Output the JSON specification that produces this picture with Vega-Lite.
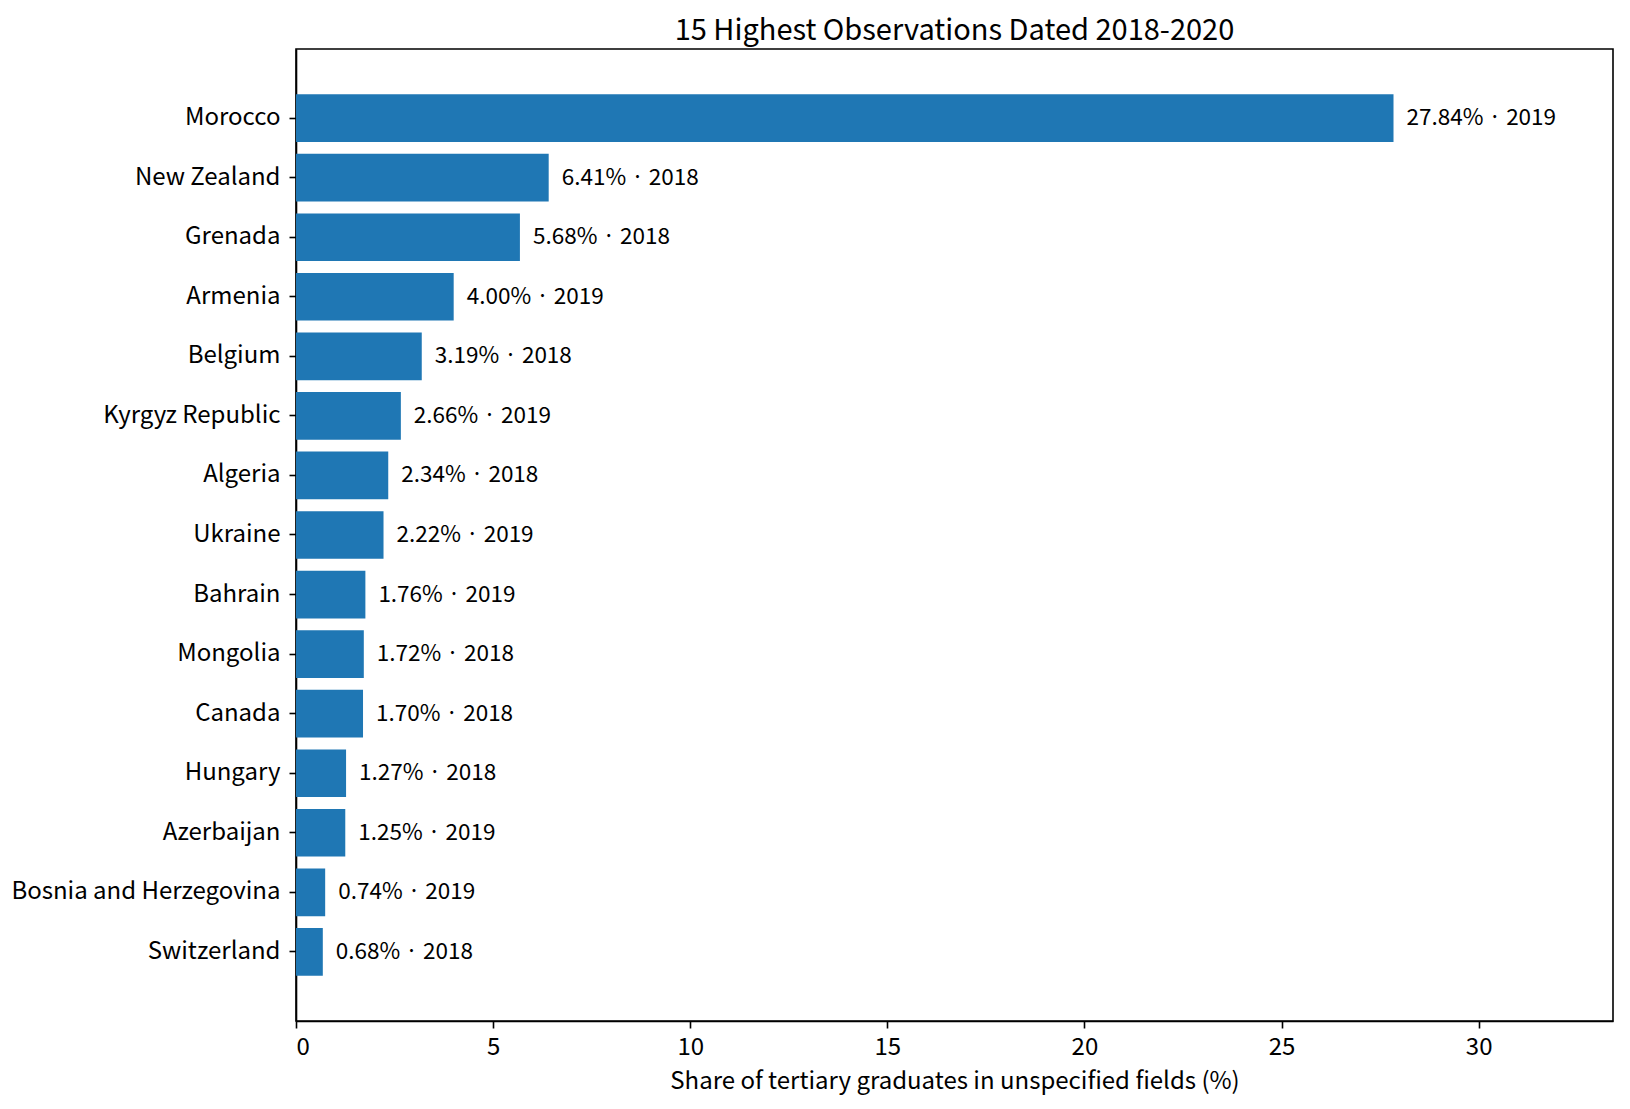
{
  "$schema": "https://vega.github.io/schema/vega-lite/v6.json",
  "description": "15 highest observations of share of tertiary graduates in unspecified fields, 2018-2020",
  "autosize": {"type": "none"},
  "padding": {"left": 296, "top": 49, "right": 17, "bottom": 88},
  "width": 1317,
  "height": 972,
  "background": "white",
  "config": {
    "font": "Noto Sans CJK KR",
    "view": {"stroke": "black", "strokeWidth": 1.6},
    "axis": {
      "domainColor": "black",
      "domainWidth": 1.6,
      "tickColor": "black",
      "tickWidth": 1.6,
      "labelColor": "black",
      "titleColor": "black",
      "labelFontSize": 24,
      "titleFontSize": 24,
      "titleFontWeight": "normal",
      "tickSize": 7,
      "labelLimit": 0,
      "grid": false
    }
  },
  "title": {
    "text": "15 Highest Observations Dated 2018-2020",
    "fontSize": 29,
    "fontWeight": "normal",
    "color": "black",
    "anchor": "middle",
    "offset": 3
  },
  "data": {
    "values": [
      {"country": "Morocco", "share": 27.84, "label": "27.84% · 2019"},
      {"country": "New Zealand", "share": 6.41, "label": "6.41% · 2018"},
      {"country": "Grenada", "share": 5.68, "label": "5.68% · 2018"},
      {"country": "Armenia", "share": 4.0, "label": "4.00% · 2019"},
      {"country": "Belgium", "share": 3.19, "label": "3.19% · 2018"},
      {"country": "Kyrgyz Republic", "share": 2.66, "label": "2.66% · 2019"},
      {"country": "Algeria", "share": 2.34, "label": "2.34% · 2018"},
      {"country": "Ukraine", "share": 2.22, "label": "2.22% · 2019"},
      {"country": "Bahrain", "share": 1.76, "label": "1.76% · 2019"},
      {"country": "Mongolia", "share": 1.72, "label": "1.72% · 2018"},
      {"country": "Canada", "share": 1.7, "label": "1.70% · 2018"},
      {"country": "Hungary", "share": 1.27, "label": "1.27% · 2018"},
      {"country": "Azerbaijan", "share": 1.25, "label": "1.25% · 2019"},
      {"country": "Bosnia and Herzegovina", "share": 0.74, "label": "0.74% · 2019"},
      {"country": "Switzerland", "share": 0.68, "label": "0.68% · 2018"}
    ]
  },
  "encoding": {
    "y": {
      "field": "country",
      "type": "nominal",
      "sort": null,
      "title": null,
      "scale": {"paddingInner": 0.2, "paddingOuter": 0.76},
      "axis": {"labelPadding": 9}
    },
    "x": {
      "field": "share",
      "type": "quantitative",
      "title": "Share of tertiary graduates in unspecified fields (%)",
      "scale": {"domain": [0, 33.408], "nice": false, "zero": true},
      "axis": {"values": [0, 5, 10, 15, 20, 25, 30], "labelPadding": 7, "titlePadding": 10}
    }
  },
  "layer": [
    {
      "mark": {"type": "bar", "color": "#1f77b4"}
    },
    {
      "mark": {
        "type": "text",
        "align": "left",
        "baseline": "middle",
        "dx": 13,
        "fontSize": 22.5,
        "color": "black"
      },
      "encoding": {"text": {"field": "label"}}
    }
  ]
}
